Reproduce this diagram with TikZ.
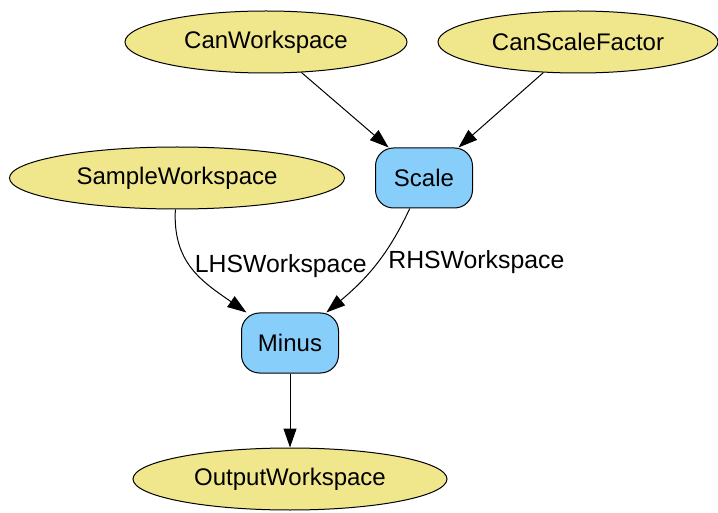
\documentclass[tikz,border=0pt]{standalone}
\usepackage{fontspec}
\setmainfont{Liberation Sans}
\usetikzlibrary{arrows.meta, positioning, shapes.geometric}
\definecolor{datacol}{RGB}{240, 230, 140}
\definecolor{algcol}{RGB}{135, 206, 250}
\definecolor{linecol}{RGB}{0, 0, 0}
\tikzset{
  blk/.style   = {draw=linecol, line width=1pt, align=center,
                  font=\fontsize{24}{28}\selectfont, inner sep=0pt},
  wsp/.style   = {blk, ellipse, fill=datacol, minimum height=62pt},
  alg/.style   = {blk, rounded corners=18pt, fill=algcol,
                  minimum width=97pt, minimum height=60pt},
  lbl/.style   = {font=\fontsize{24.8}{29}\selectfont, inner sep=0pt},
  flow/.style  = {-{Triangle[length=19pt, width=13pt]}, draw=linecol,
                  line width=1pt},
}
\begin{document}
\begin{tikzpicture}[x=1pt, y=-1pt]
  \useasboundingbox (0,0) rectangle (718,513);

  %% ---------------- inputs ----------------
  \node[wsp, minimum width=282pt] at (266,42) (can) {CanWorkspace};
  \node[wsp, minimum width=280pt] at (578,42) (factor) {CanScaleFactor};
  \node[wsp, minimum width=335pt] at (177,178) (sample) {SampleWorkspace};

  %% ---------------- algorithms ----------------
  \node[alg] at (424,178) (scale) {Scale};
  \node[alg] at (290,343) (minus) {Minus};

  %% ---------------- output ----------------
  \node[wsp, minimum width=314pt] at (290,479) (out) {OutputWorkspace};

  \draw[flow] (sample) to[out=-93, in=145, looseness=1.1]
       node[lbl, anchor=west, pos=0.46, xshift=4pt] (lhs) {LHSWorkspace}
       (minus);
  \draw[flow] (scale) to[out=-115, in=40]
       node[lbl, anchor=west, pos=0.46, xshift=10pt] (rhs) {RHSWorkspace}
       (minus);
  \draw[flow] (can) -- (scale);
  \draw[flow] (factor) -- (scale);
  \draw[flow] (minus) -- (out);

\end{tikzpicture}
\end{document}
